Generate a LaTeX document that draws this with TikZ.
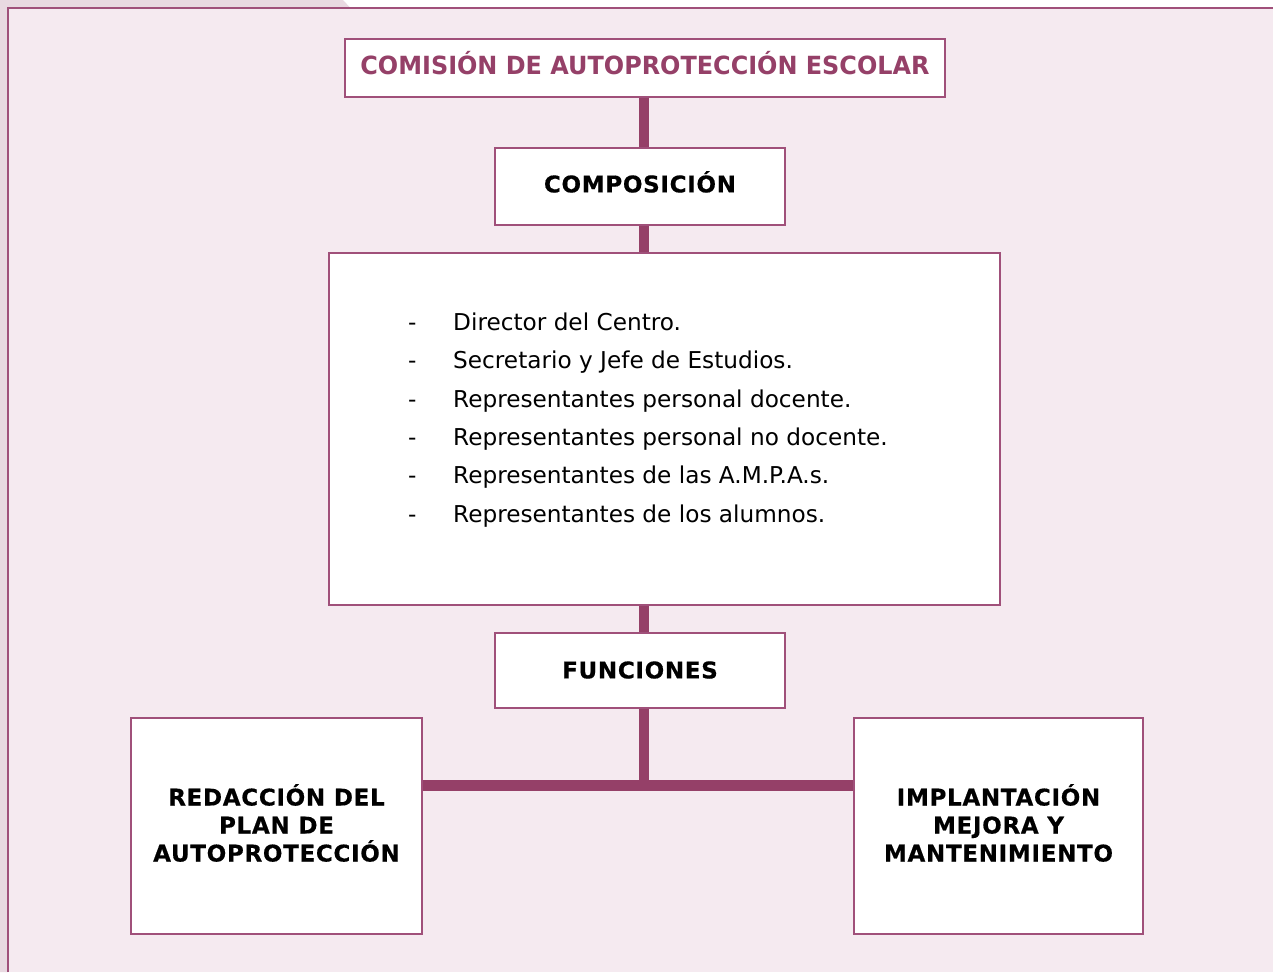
\documentclass[tikz,border=0pt]{standalone}
\usepackage{fontspec}
\setmainfont{DejaVu Sans}
\newfontfamily\titlefont[FakeStretch=0.957]{DejaVu Sans}
\newfontfamily\lblfont[LetterSpace=3,BoldFeatures={FakeBold=0.5}]{DejaVu Sans}
\definecolor{bgpink}{HTML}{F5EAF0}
\definecolor{strip}{HTML}{E9D9E1}
\definecolor{plum}{HTML}{954068}
\definecolor{boxline}{HTML}{A0507A}
\begin{document}
\begin{tikzpicture}[x=1pt,y=-1pt,
  box/.style={draw=boxline,line width=1.8pt,fill=white,inner sep=0pt,align=center},
  boldlbl/.style={font=\fontsize{23}{28}\lblfont\bfseries},
  conn/.style={draw=plum,line width=10pt},
  hbar/.style={draw=plum,line width=11pt}]
\useasboundingbox (0,0) rectangle (1273,972);
% background
\fill[white] (0,0) rectangle (1273,972);
\fill[strip] (0,0) -- (343,0) -- (350,7.5) -- (8,7.5) -- (8,972) -- (0,972) -- cycle;
\fill[bgpink] (8,7.5) rectangle (1273,972);
\draw[boxline,line width=2pt] (1273,7.5) -- (8.3,7.5) -- (8.3,972);
% nodes
\node[box,minimum width=600pt,minimum height=58pt,text=plum,text height=18.2pt,text depth=6pt,font=\fontsize{25}{30}\titlefont\bfseries] (title) at (645,68) {COMISIÓN DE AUTOPROTECCIÓN ESCOLAR};
\node[box,boldlbl,minimum width=290pt,minimum height=77pt,text height=16.8pt,text depth=5pt] (comp) at (640,186.5) {COMPOSICIÓN};
\node[box,minimum width=671pt,minimum height=352pt] (list) at (664.5,429) {};
\node[anchor=north west,inner sep=0pt,align=left,font=\fontsize{23.2}{38.4}\selectfont] (items) at (408,312.5)
 {\makebox[45pt][l]{-}Director del Centro.\\
  \makebox[45pt][l]{-}Secretario y Jefe de Estudios.\\
  \makebox[45pt][l]{-}Representantes personal docente.\\
  \makebox[45pt][l]{-}Representantes personal no docente.\\
  \makebox[45pt][l]{-}Representantes de las A.M.P.A.s.\\
  \makebox[45pt][l]{-}Representantes de los alumnos.};
\node[box,boldlbl,minimum width=290pt,minimum height=75pt,text height=16.8pt,text depth=1pt] (func) at (640,670.5) {FUNCIONES};
\node[box,minimum width=291pt,minimum height=216pt,
  label={[boldlbl,align=center,inner sep=0pt,yshift=3pt]center:REDACCIÓN DEL\\PLAN DE\\AUTOPROTECCIÓN}] (left) at (276.5,826) {};
\node[box,minimum width=289pt,minimum height=216pt,
  label={[boldlbl,align=center,inner sep=0pt,yshift=3pt]center:IMPLANTACIÓN\\MEJORA Y\\MANTENIMIENTO}] (right) at (998.5,826) {};
% connectors
\coordinate (spine) at (644,0);
\coordinate (bar) at (0,785);
\draw[conn] (title.south -| spine) -- (comp.north -| spine);
\draw[conn] (comp.south -| spine) -- (list.north -| spine);
\draw[conn] (list.south -| spine) -- (func.north -| spine);
\draw[conn] (func.south -| spine) -- (bar -| spine);
\draw[hbar] (left.east |- bar) -- (right.west |- bar);
\end{tikzpicture}
\end{document}
